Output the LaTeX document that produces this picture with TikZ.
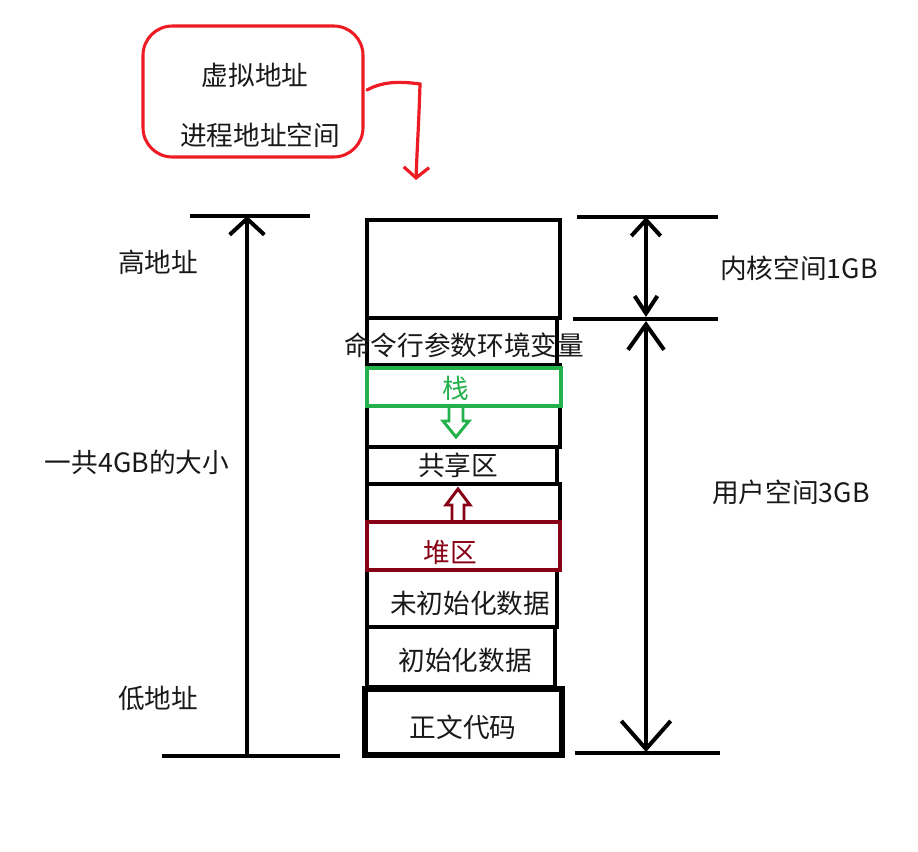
\documentclass[tikz,border=0pt]{standalone}
\usepackage{fontspec}
\setmainfont{Noto Sans CJK SC}
\usetikzlibrary{fit,arrows.meta}
\definecolor{pred}{RGB}{237,28,36}
\definecolor{pgreen}{RGB}{34,177,76}
\definecolor{pdark}{RGB}{136,0,21}
\definecolor{ink}{RGB}{25,25,25}
\begin{document}
\begin{tikzpicture}[x=0.75pt,y=-0.75pt,
  lbl/.style={font=\fontsize{20}{24}\selectfont, inner sep=0, text=ink},
  seg/.style={draw, line width=3pt, inner sep=0},
  rule/.style={line width=3pt},
  hollow/.style={line width=2.2pt, line join=miter}
]
\useasboundingbox (0,0) rectangle (918,852);

% callout
\node[fit={(143,26)(363,157)}, draw=pred, line width=2.3pt, rounded corners=22pt, inner sep=0] (callout) {};
\node[lbl] (va) at (255,75) {虚拟地址};
\node[lbl] (pas) at (260,135) {进程地址空间};
\coordinate (cs) at (367,90);
\coordinate (cm) at (420,84);
\coordinate (ce) at (416,180);
\draw[pred, line width=2.4pt, line cap=round, -{Straight Barb[length=8pt,width=19pt]}]
  (cs) .. controls (385,80) and (405,82) .. (cm) .. controls (419,120) and (417,150) .. (ce);

% column
\node[seg, fit={(367,220)(560,318)}] (kernel) {};
\node[seg, fit={(367,318)(557,365)}] (cmd) {};
\node[lbl] (cmdt) at (464,345) {命令行参数环境变量};
\node[seg, fit={(367,365)(560,447)}] (stackarea) {};
\node[draw=pgreen, line width=2.3pt, fill=white, inner sep=0, fit={(367,368)(561,406)}] (stack) {};
\node[lbl, text=pgreen] (stackt) at (456,388) {栈};
\draw[pgreen, hollow] (449,407) -- (449,421) -- (443,421) -- (456,437) -- (469,421) -- (463,421) -- (463,407);

\node[seg, fit={(367,447)(557,484)}] (shared) {};
\node[lbl] (sharedt) at (458,465) {共享区};
\node[seg, fit={(367,484)(560,522)}] (heaparea) {};
\node[seg, fit={(367,570)(557,627)}] (bss) {};
\node[lbl] (bsst) at (470,603) {未初始化数据};
\node[draw=pdark, line width=2.3pt, fill=white, inner sep=0, fit={(367,522)(560,570)}] (heap) {};
\node[lbl, text=pdark] (heapt) at (450,552) {堆区};
\draw[pdark, hollow] (452,521) -- (452,505) -- (446,505) -- (458,489) -- (470,505) -- (464,505) -- (464,521);
\node[seg, fit={(367,627)(555,687)}] (data) {};
\node[lbl] (datat) at (465,660) {初始化数据};
\node[seg, line width=3.8pt, fit={(365,689)(562,755)}] (code) {};
\node[lbl] (codet) at (463,727) {正文代码};

% left dimension
\coordinate (lt1) at (190,216); \coordinate (lt2) at (310,216);
\coordinate (lb1) at (162,756); \coordinate (lb2) at (340,756);
\coordinate (la) at (247,756); \coordinate (lat) at (247,216);
\draw[rule] (lt1) -- (lt2);
\draw[rule] (lb1) -- (lb2);
\draw[rule, -{Straight Barb[length=12pt,width=26pt]}] (la) -- (lat);
\node[lbl] (high) at (158,262) {高地址};
\node[lbl] (total) at (137,462) {一共4GB的大小};
\node[lbl] (low) at (158,698) {低地址};

% right dimension
\coordinate (rt1) at (577,217); \coordinate (rt2) at (718,217);
\coordinate (rm1) at (573,319); \coordinate (rm2) at (718,319);
\coordinate (rb1) at (575,753); \coordinate (rb2) at (720,753);
\coordinate (ka) at (646,217); \coordinate (kb) at (646,317);
\coordinate (ua) at (646,321); \coordinate (ub) at (646,752);
\draw[rule] (rt1) -- (rt2);
\draw[rule] (rm1) -- (rm2);
\draw[rule] (rb1) -- (rb2);
\draw[rule, {Straight Barb[length=12pt,width=22pt]}-{Straight Barb[length=13pt,width=17pt]}] (ka) -- (kb);
\draw[rule, {Straight Barb[length=19pt,width=27pt]}-{Straight Barb[length=21pt,width=37pt]}] (ua) -- (ub);
\node[lbl] (kspace) at (799,268) {内核空间1GB};
\node[lbl] (uspace) at (791,492) {用户空间3GB};
\end{tikzpicture}
\end{document}
